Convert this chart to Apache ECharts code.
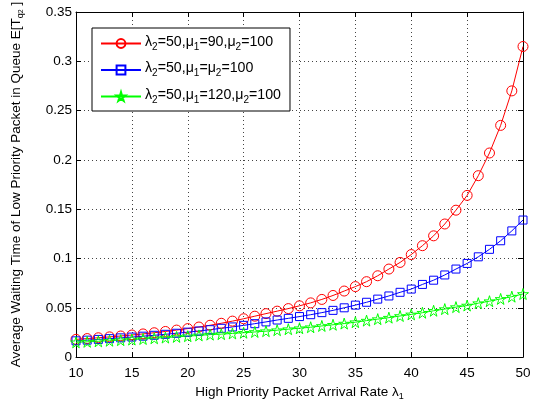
<!DOCTYPE html>
<html>
<head>
<meta charset="utf-8">
<script src="https://cdn.jsdelivr.net/npm/echarts@6/dist/echarts.min.js"></script>
<style>html,body{margin:0;padding:0;background:#fff;}#c{width:543px;height:406px;}</style>
</head>
<body>
<div id="c"></div>
<script>
var lambda1 = [10,11,12,13,14,15,16,17,18,19,20,21,22,23,24,25,26,27,28,29,30,31,32,33,34,35,36,37,38,39,40,41,42,43,44,45,46,47,48,49,50];
var seriesMu90 = [0.0180,0.0188,0.0196,0.0205,0.0214,0.0224,0.0235,0.0247,0.0260,0.0274,0.0289,0.0305,0.0323,0.0343,0.0365,0.0389,0.0415,0.0441,0.0466,0.0492,0.0520,0.0550,0.0585,0.0625,0.0670,0.0715,0.0765,0.0825,0.0893,0.0960,0.1040,0.1130,0.1230,0.1350,0.1490,0.1640,0.1840,0.2070,0.2350,0.2700,0.3150];
var seriesMu100 = [0.0165,0.0172,0.0179,0.0187,0.0195,0.0203,0.0212,0.0221,0.0231,0.0242,0.0253,0.0265,0.0278,0.0292,0.0306,0.0322,0.0339,0.0357,0.0376,0.0393,0.0411,0.0430,0.0451,0.0474,0.0500,0.0527,0.0556,0.0588,0.0620,0.0657,0.0690,0.0737,0.0780,0.0833,0.0893,0.0950,0.1017,0.1093,0.1180,0.1280,0.1390];
var seriesMu120 = [0.0150,0.0155,0.0160,0.0166,0.0172,0.0178,0.0184,0.0191,0.0198,0.0205,0.0212,0.0220,0.0228,0.0233,0.0240,0.0247,0.0255,0.0263,0.0273,0.0283,0.0293,0.0303,0.0316,0.0328,0.0340,0.0354,0.0370,0.0385,0.0400,0.0417,0.0433,0.0450,0.0470,0.0487,0.0507,0.0523,0.0547,0.0567,0.0590,0.0613,0.0640];
var legendLabels = [
  '{n|λ}{s|2}{n|=50,μ}{s|1}{n|=90,μ}{s|2}{n|=100}',
  '{n|λ}{s|2}{n|=50,μ}{s|1}{n|=μ}{s|2}{n|=100}',
  '{n|λ}{s|2}{n|=50,μ}{s|1}{n|=120,μ}{s|2}{n|=100}'
];
var seriesNames = ['a', 'b', 'c'];
var xTitle = '{n|High Priority Packet Arrival Rate λ}{s|1}';
var yTitle = '{n|Average Waiting Time of Low Priority Packet in Queue E[T}{s|q}{ss|2}{n| ]}';

var FONT = '"Liberation Sans", Arial, sans-serif';
var rich = {
  n: {fontSize: 13.5, fontFamily: FONT, color: '#000', lineHeight: 16, verticalAlign: 'top'},
  s: {fontSize: 9, fontFamily: FONT, color: '#000', lineHeight: 6, verticalAlign: 'bottom'},
  ss: {fontSize: 7, fontFamily: FONT, color: '#000', lineHeight: 1, verticalAlign: 'bottom'}
};
var legendRich = {
  n: {fontSize: 14.2, fontFamily: FONT, color: '#000', lineHeight: 17, verticalAlign: 'top'},
  s: {fontSize: 10, fontFamily: FONT, color: '#000', lineHeight: 6, verticalAlign: 'bottom'}
};
function pairs(ys){ return lambda1.map(function(x,i){ return [x, ys[i]]; }); }
var star = 'path://M50,0 L61,35 L98,35 L68,57 L79,91 L50,70 L21,91 L32,57 L2,35 L39,35 Z';

var chart = echarts.init(document.getElementById('c'), null, {renderer: 'canvas'});
var axisLine = {show: true, onZero: false, lineStyle: {color: '#000', width: 1}};
var tick = {show: true, inside: true, length: 5, lineStyle: {color: '#000'}};
var grid = {show: true, lineStyle: {color: '#444', width: 1, type: [1, 3]}};
chart.setOption({
  animation: false,
  backgroundColor: '#fff',
  grid: {left: 76, right: 20, top: 12, bottom: 43},
  legend: {
    orient: 'vertical', left: 92, top: 28,
    backgroundColor: '#fff', borderColor: '#000', borderWidth: 1, borderRadius: 0,
    padding: [7, 9, 6, 8], itemGap: 9.5, itemWidth: 40, itemHeight: 11,
    data: seriesNames,
    formatter: function(name){ return legendLabels[seriesNames.indexOf(name)]; },
    textStyle: {rich: legendRich, padding: [0,0,0,-1]}
  },
  xAxis: [{
    type: 'value', min: 10, max: 50, interval: 5, position: 'bottom',
    axisLine: axisLine, axisTick: tick, splitLine: grid,
    axisLabel: {color: '#000', fontSize: 13.5, fontFamily: FONT, margin: 9},
    name: xTitle, nameLocation: 'middle', nameGap: 23,
    nameTextStyle: {rich: rich}
  }, {
    type: 'value', min: 10, max: 50, interval: 5, position: 'top',
    axisLine: axisLine, axisTick: tick, splitLine: {show: false}, axisLabel: {show: false}
  }],
  yAxis: [{
    type: 'value', min: 0, max: 0.35, interval: 0.05, position: 'left',
    axisLine: axisLine, axisTick: tick, splitLine: grid,
    axisLabel: {color: '#000', fontSize: 13.5, fontFamily: FONT, margin: 4},
    name: yTitle, nameLocation: 'middle', nameGap: 51,
    nameTextStyle: {rich: rich}
  }, {
    type: 'value', min: 0, max: 0.35, interval: 0.05, position: 'right',
    axisLine: axisLine, axisTick: tick, splitLine: {show: false}, axisLabel: {show: false}
  }],
  series: [{
    name: seriesNames[0], type: 'line', data: pairs(seriesMu90),
    symbol: 'circle', symbolSize: 10, showAllSymbol: true,
    lineStyle: {color: '#ff0000', width: 1},
    itemStyle: {color: 'rgba(255,255,255,0)', borderColor: '#ff0000', borderWidth: 1}
  }, {
    name: seriesNames[1], type: 'line', data: pairs(seriesMu100),
    symbol: 'rect', symbolSize: 8, showAllSymbol: true,
    lineStyle: {color: '#0000ff', width: 1},
    itemStyle: {color: 'rgba(255,255,255,0)', borderColor: '#0000ff', borderWidth: 1}
  }, {
    name: seriesNames[2], type: 'line', data: pairs(seriesMu120),
    symbol: star, symbolSize: 11, showAllSymbol: true,
    lineStyle: {color: '#00ff00', width: 1},
    itemStyle: {color: 'rgba(255,255,255,0)', borderColor: '#00ff00', borderWidth: 1}
  }]
});
</script>
</body>
</html>
